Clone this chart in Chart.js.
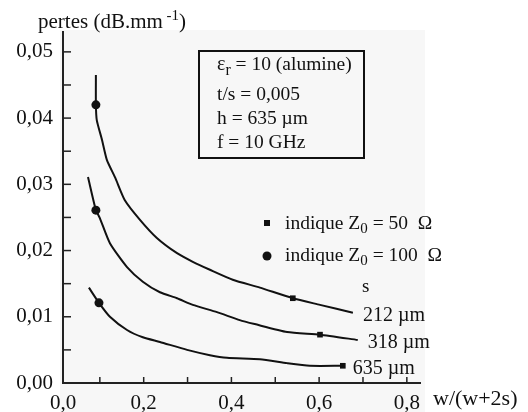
<!DOCTYPE html>
<html>
<head>
<meta charset="utf-8">
<script src="https://cdn.jsdelivr.net/npm/chart.js@4"></script>
<style>
  body { margin: 0; background: #fff; }
</style>
</head>
<body>
<canvas id="pertes" width="528" height="412"></canvas>
<script>
// courbes : pertes en fonction de w/(w+2s)
var s212X = [0.091, 0.091, 0.093, 0.105, 0.116, 0.135, 0.157, 0.192, 0.230, 0.276, 0.312, 0.351, 0.403, 0.465, 0.540, 0.602, 0.677];
var s212Y = [0.0465, 0.0420, 0.0397, 0.0367, 0.0337, 0.0310, 0.0276, 0.0246, 0.0219, 0.0196, 0.0183, 0.0171, 0.0156, 0.0144, 0.0128, 0.0118, 0.0106];

var s318X = [0.073, 0.091, 0.100, 0.123, 0.162, 0.198, 0.237, 0.276, 0.312, 0.367, 0.419, 0.453, 0.527, 0.602, 0.688];
var s318Y = [0.0311, 0.0261, 0.0249, 0.0211, 0.0175, 0.0153, 0.0137, 0.0128, 0.0118, 0.0107, 0.0095, 0.0089, 0.0077, 0.0073, 0.0065];

var s635X = [0.075, 0.098, 0.123, 0.162, 0.198, 0.237, 0.299, 0.351, 0.390, 0.465, 0.527, 0.579, 0.654];
var s635Y = [0.0144, 0.0121, 0.0100, 0.0080, 0.0069, 0.0062, 0.0050, 0.0042, 0.0038, 0.0036, 0.0030, 0.0026, 0.0026];

var curveLabels = ['212 µm', '318 µm', '635 µm'];

// marqueurs Z0
var z100X = [0.091, 0.091, 0.098];
var z100Y = [0.0420, 0.0261, 0.0121];
var z50X = [0.540, 0.602, 0.654];
var z50Y = [0.0128, 0.0073, 0.0026];

// graduations
var xTickValues = [0, 0.2, 0.4, 0.6, 0.8];
var xTickLabels = ['0,0', '0,2', '0,4', '0,6', '0,8'];
var yTickValues = [0, 0.01, 0.02, 0.03, 0.04, 0.05];
var xMinor = [0.1, 0.2, 0.3, 0.4, 0.5, 0.6, 0.7, 0.8];
var yMinor = [0.005, 0.01, 0.015, 0.02, 0.025, 0.03, 0.035, 0.04, 0.045, 0.05];

function pts(xs, ys) {
    return xs.map(function (v, i) { return { x: v, y: ys[i] }; });
}

var serif = '"Liberation Serif", "DejaVu Serif", serif';

function runs(ctx, x, y, parts) {
    parts.forEach(function (p) {
        ctx.font = p[1] + 'px ' + serif;
        ctx.fillText(p[0], x, y + p[2]);
        x += ctx.measureText(p[0]).width;
    });
}

var fond = {
    id: 'fond',
    beforeDraw: function (chart) {
        var a = chart.chartArea, ctx = chart.ctx;
        ctx.save();
        ctx.fillStyle = '#f7f7f7';
        ctx.fillRect(a.left - 3, a.top - 2, a.right - a.left + 8, chart.height - a.top + 2);
        ctx.restore();
    }
};

var notes = {
    id: 'notes',
    afterDraw: function (chart) {
        var ctx = chart.ctx, a = chart.chartArea;
        var x = chart.scales.x, y = chart.scales.y;
        ctx.save();

        // petites graduations vers l'interieur
        ctx.strokeStyle = '#222';
        ctx.lineWidth = 1.5;
        xMinor.forEach(function (v) {
            var px = x.getPixelForValue(v);
            ctx.beginPath(); ctx.moveTo(px, a.bottom); ctx.lineTo(px, a.bottom - 6); ctx.stroke();
        });
        yMinor.forEach(function (v) {
            var py = y.getPixelForValue(v);
            ctx.beginPath(); ctx.moveTo(a.left, py); ctx.lineTo(a.left + 8, py); ctx.stroke();
        });

        ctx.fillStyle = '#111';
        ctx.textAlign = 'left';
        ctx.textBaseline = 'alphabetic';

        // titre axe y
        runs(ctx, 38, 28, [['pertes (dB.mm', 21, 0], [' -1', 15, -8], [')', 21, 0]]);

        // titre axe x
        runs(ctx, 433, 405, [['w/(w+2s)', 22, 0]]);

        // cadre des parametres
        ctx.lineWidth = 2;
        ctx.strokeStyle = '#111';
        ctx.strokeRect(199, 51, 165, 107);
        runs(ctx, 217, 70, [['ε', 20, 0], ['r', 16, 5], [' = 10 (alumine)', 19.5, 0]]);
        runs(ctx, 217, 100, [['t/s = 0,005', 19.5, 0]]);
        runs(ctx, 217, 124, [['h = 635 µm', 19.5, 0]]);
        runs(ctx, 217, 148, [['f = 10 GHz', 19.5, 0]]);

        // legende
        ctx.fillRect(264, 220, 6, 6);
        ctx.beginPath(); ctx.arc(267, 256, 4.5, 0, Math.PI * 2); ctx.fill();
        runs(ctx, 285, 229, [['indique Z', 19.5, 0], ['0', 15, 4], [' = 50  Ω', 19.5, 0]]);
        runs(ctx, 285, 261, [['indique Z', 19.5, 0], ['0', 15, 4], [' = 100  Ω', 19.5, 0]]);

        // noms des courbes
        runs(ctx, 362, 292, [['s', 19, 0]]);
        [0, 1, 2].forEach(function (i) {
            var pArr = chart.data.datasets[i].data;
            var last = pArr[pArr.length - 1];
            runs(ctx, x.getPixelForValue(last.x) + 10, y.getPixelForValue(last.y) + 8, [[curveLabels[i], 20, 0]]);
        });

        ctx.restore();
    }
};

var line = { borderColor: '#111', borderWidth: 2, pointRadius: 0, tension: 0.2, fill: false };

var ctx1 = document.getElementById('pertes').getContext('2d');
var myChart = new Chart(ctx1, {
    type: 'line',
    data: {
        datasets: [
            Object.assign({ label: curveLabels[0], data: pts(s212X, s212Y) }, line),
            Object.assign({ label: curveLabels[1], data: pts(s318X, s318Y) }, line),
            Object.assign({ label: curveLabels[2], data: pts(s635X, s635Y) }, line),
            {
                label: 'Z0 = 100', data: pts(z100X, z100Y), showLine: false,
                pointStyle: 'circle', pointRadius: 4.5, backgroundColor: '#111', borderColor: '#111', borderWidth: 0
            },
            {
                label: 'Z0 = 50', data: pts(z50X, z50Y), showLine: false,
                pointStyle: 'rect', pointRadius: 4, backgroundColor: '#111', borderColor: '#111', borderWidth: 0
            }
        ]
    },
    options: {
        responsive: false,
        animation: false,
        devicePixelRatio: 1,
        layout: { padding: { left: 0, top: 32, right: 108, bottom: 0 } },
        plugins: { legend: { display: false }, tooltip: { enabled: false } },
        scales: {
            x: {
                type: 'linear',
                min: 0.016,
                max: 0.83,
                afterBuildTicks: function (scale) {
                    scale.ticks = xTickValues.map(function (v) { return { value: Math.max(v, scale.min) }; });
                },
                afterFit: function (scale) { scale.height = 29; },
                grid: { display: false, drawTicks: false, tickLength: 0 },
                border: { display: true, color: '#222', width: 2 },
                ticks: {
                    autoSkip: false, maxRotation: 0, padding: 8, color: '#111',
                    font: { family: serif, size: 21 },
                    callback: function (v, i) { return xTickLabels[i]; }
                }
            },
            y: {
                min: 0,
                max: 0.053,
                afterBuildTicks: function (scale) {
                    scale.ticks = yTickValues.map(function (v) { return { value: v }; });
                },
                afterFit: function (scale) { scale.width = 63; },
                grid: { display: false, drawTicks: false, tickLength: 0 },
                border: { display: true, color: '#222', width: 2 },
                ticks: {
                    autoSkip: false, padding: 10, color: '#111',
                    font: { family: serif, size: 21 },
                    callback: function (v) { return v.toFixed(2).replace('.', ','); }
                }
            }
        }
    },
    plugins: [fond, notes]
});
</script>
</body>
</html>
